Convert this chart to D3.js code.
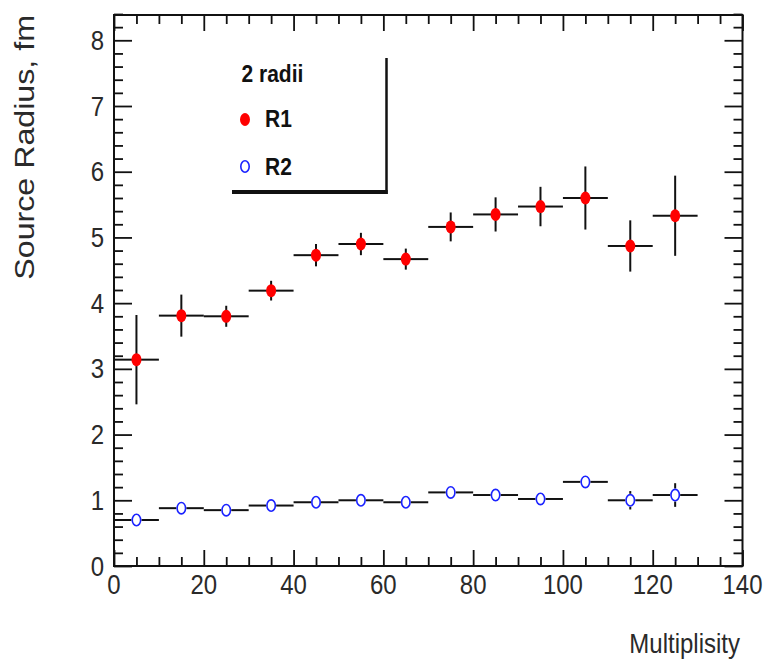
<!DOCTYPE html>
<html>
<head>
<meta charset="utf-8">
<script src="https://cdn.jsdelivr.net/npm/d3@7"></script>
<style>
  html, body { margin: 0; padding: 0; background: #fff; }
  svg { display: block; }
  text { font-family: "Liberation Sans", Arial, Helvetica, sans-serif; }
</style>
</head>
<body>
<script>
// Source radii from the two-radius fit, in bins of multiplicity
const multiplicity = [5, 15, 25, 35, 45, 55, 65, 75, 85, 95, 105, 115, 125];
const binHalfWidth = [5, 5, 5, 5, 5, 5, 5, 5, 5, 5, 5, 5, 5];
const r1 = [3.14, 3.81, 3.80, 4.19, 4.73, 4.90, 4.67, 5.16, 5.35, 5.47, 5.60, 4.87, 5.33];
const r1Err = [0.68, 0.32, 0.16, 0.15, 0.17, 0.17, 0.16, 0.22, 0.26, 0.30, 0.48, 0.39, 0.61];
const r2 = [0.70, 0.88, 0.85, 0.92, 0.97, 1.00, 0.97, 1.12, 1.08, 1.02, 1.28, 1.00, 1.08];
const r2Err = [0.05, 0.05, 0.05, 0.05, 0.05, 0.05, 0.05, 0.05, 0.05, 0.05, 0.05, 0.14, 0.18];

const xTickLabels = ["0", "20", "40", "60", "80", "100", "120", "140"];
const yTickLabels = ["0", "1", "2", "3", "4", "5", "6", "7", "8"];
const xTitle = "Multiplisity";
const yTitle = "Source Radius, fm";
const legendHeader = "2 radii";
const seriesNames = ["R1", "R2"];

const W = 763, H = 659;
const SY = 1.15;            // glyphs are drawn slightly tall
const TXT = "#2a2a2a";

const svg = d3.select("body").append("svg").attr("width", W).attr("height", H);

const x = d3.scaleLinear().domain([0, 140]).range([114, 742.5]);
const y = d3.scaleLinear().domain([0, 8.4]).range([566, 14]);
const frameL = 114, frameR = 742.5, frameB = 566, frameT = 15;

function stext(g, px, py, str, size, anchor, weight, fill) {
  return g.append("text")
    .attr("transform", `translate(${px},${py}) scale(1,${SY})`)
    .attr("text-anchor", anchor || "start")
    .attr("font-size", size)
    .attr("font-weight", weight || "normal")
    .attr("fill", fill || TXT)
    .text(str);
}

// ---- axis ticks (pointing inwards on all four sides) ----
const xMajor = xTickLabels.map(Number);
const xMinor = d3.range(0, 141, 5).filter(v => v % 20 !== 0);
const yMajor = yTickLabels.map(Number);
const yMinor = d3.range(0, 43).filter(i => i % 5 !== 0).map(i => i * 0.2);

function tickAxis(axisFn, scale, values, len, tx, ty) {
  const g = svg.append("g")
    .attr("transform", `translate(${tx},${ty})`)
    .call(axisFn(scale).tickValues(values).tickSizeInner(-len).tickSizeOuter(0).tickFormat(""));
  g.select(".domain").remove();
  g.selectAll(".tick line").attr("stroke", "#111").attr("stroke-width", 1.8);
  return g;
}
tickAxis(d3.axisBottom, x, xMajor, 16, 0, frameB);
tickAxis(d3.axisBottom, x, xMinor, 9, 0, frameB);
tickAxis(d3.axisTop, x, xMajor, 16, 0, frameT);
tickAxis(d3.axisTop, x, xMinor, 9, 0, frameT);
tickAxis(d3.axisLeft, y, yMajor, 18, frameL, 0);
tickAxis(d3.axisLeft, y, yMinor, 9, frameL, 0);
tickAxis(d3.axisRight, y, yMajor, 18, frameR, 0);
tickAxis(d3.axisRight, y, yMinor, 9, frameR, 0);

// frame
svg.append("rect")
  .attr("x", frameL).attr("y", frameT)
  .attr("width", frameR - frameL).attr("height", frameB - frameT)
  .attr("fill", "none").attr("stroke", "#111").attr("stroke-width", 2);

// tick labels
const labels = svg.append("g");
xMajor.forEach((v, i) => stext(labels, x(v), 594, xTickLabels[i], 24, "middle"));
yMajor.forEach((v, i) => stext(labels, 104, y(v) + 9.5, yTickLabels[i], 24, "end"));

// axis titles
stext(labels, 740, 653, xTitle, 24, "end");
svg.append("text")
  .attr("transform", `translate(34,${frameT}) scale(1,${SY}) rotate(-90)`)
  .attr("text-anchor", "end")
  .attr("font-size", 28)
  .attr("fill", TXT)
  .text(yTitle);

// ---- data: error bars + markers ----
const RX = 5, RY = 6.5;

function drawSeries(vals, errs, fill, stroke, open) {
  const g = svg.append("g");
  vals.forEach((v, i) => {
    const cx = x(multiplicity[i]), cy = y(v);
    const gx = open ? RX : 0, gy = open ? RY : 0;
    const segs = [];
    segs.push([x(multiplicity[i] - binHalfWidth[i]), cy, cx - gx, cy]);
    segs.push([cx + gx, cy, x(multiplicity[i] + binHalfWidth[i]), cy]);
    const up = y(v + errs[i]), dn = y(v - errs[i]);
    if (cy - up > gy) segs.push([cx, up, cx, cy - gy]);
    if (dn - cy > gy) segs.push([cx, cy + gy, cx, dn]);
    segs.forEach(s => g.append("line")
      .attr("x1", s[0]).attr("y1", s[1]).attr("x2", s[2]).attr("y2", s[3])
      .attr("stroke", "#111").attr("stroke-width", 2));
    g.append("ellipse")
      .attr("cx", cx).attr("cy", cy)
      .attr("rx", open ? RX - 0.8 : RX).attr("ry", open ? RY - 0.8 : RY)
      .attr("fill", fill).attr("stroke", stroke).attr("stroke-width", open ? 1.6 : 0);
  });
}
drawSeries(r1, r1Err, "#ff0000", "none", false);
drawSeries(r2, r2Err, "none", "#1a22ff", true);

// ---- legend ----
const lg = svg.append("g");
lg.append("line").attr("x1", 386.5).attr("y1", 58).attr("x2", 386.5).attr("y2", 194)
  .attr("stroke", "#111").attr("stroke-width", 2.5);
lg.append("line").attr("x1", 232).attr("y1", 192).attr("x2", 387.7).attr("y2", 192)
  .attr("stroke", "#111").attr("stroke-width", 4);
stext(lg, 241.5, 82, legendHeader, 21, "start", "bold", "#111");
lg.append("ellipse").attr("cx", 245).attr("cy", 119.5).attr("rx", RX).attr("ry", RY).attr("fill", "#ff0000");
stext(lg, 265, 127, seriesNames[0], 21, "start", "bold", "#111");
lg.append("ellipse").attr("cx", 245).attr("cy", 166.5).attr("rx", RX - 0.8).attr("ry", RY - 0.8)
  .attr("fill", "none").attr("stroke", "#1a22ff").attr("stroke-width", 1.6);
stext(lg, 265, 175, seriesNames[1], 21, "start", "bold", "#111");
</script>
</body>
</html>
